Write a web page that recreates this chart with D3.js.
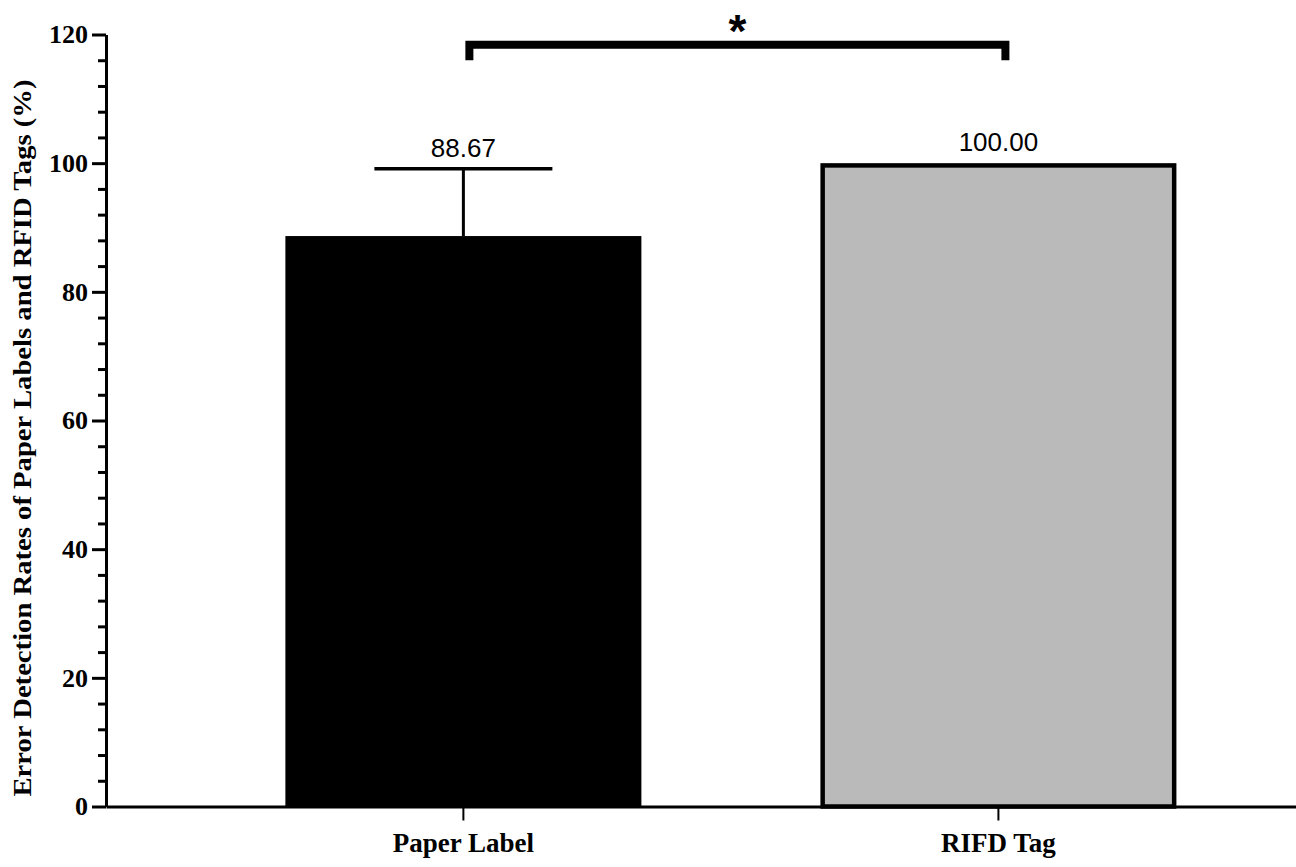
<!DOCTYPE html>
<html lang="en">
<head>
  <meta charset="utf-8">
  <title>Error detection rates</title>
  <script src="https://cdn.jsdelivr.net/npm/d3@7"></script>
  <style>
  body { margin: 0; background: #fff; }
  svg { display: block; }
  </style>
</head>
<body>
  <script>
  // data
  var categories = ["Paper Label", "RIFD Tag"];
  var means = [88.67, 100.00];
  var sds = [10.45, 0];
  var valueLabels = ["88.67", "100.00"];
  var yTicks = [0, 20, 40, 60, 80, 100, 120];
  var yMinorTicks = d3.range(0, 121, 4).filter(function(d) { return d % 20 !== 0; });
  var yTitle = "Error Detection Rates of Paper Labels and RFID Tags (%)";
  var sigLevel = 118.4, sigDrop = 116.0, sigMark = "*";

  var width = 1296, height = 867;
  var plotL = 106, plotR = 1296, plotT = 34.5, plotB = 806.5;
  var serif = "'Liberation Serif', 'Times New Roman', serif";
  var sans = "'Liberation Sans', Arial, sans-serif";

  var svg = d3.select("body").append("svg")
    .attr("width", width)
    .attr("height", height);

  svg.append("rect").attr("width", width).attr("height", height).attr("fill", "#fff");

  var x = d3.scaleBand()
    .domain(categories)
    .range([plotL, plotR])
    .paddingInner(0.3346)
    .paddingOuter(0.2794)
    .align(0.6);

  var y = d3.scaleLinear().domain([0, 120]).range([plotB, plotT]);

  var fill = d3.scaleOrdinal().domain(categories).range(["#000000", "#bababa"]);

  var rows = categories.map(function(c, i) {
    return {cat: c, mean: means[i], sd: sds[i], label: valueLabels[i]};
  });

  // bars (the grey one has a black outline drawn inside its edge)
  var sw = 4.5;
  function inset(d) { return d.cat === "RIFD Tag" ? sw / 2 : 0; }
  svg.selectAll("rect.bar").data(rows).enter().append("rect")
    .attr("class", "bar")
    .attr("x", function(d) { return x(d.cat) + inset(d); })
    .attr("width", function(d) { return x.bandwidth() - 2 * inset(d); })
    .attr("y", function(d) { return y(d.mean) + inset(d); })
    .attr("height", function(d) { return y(0) - y(d.mean) - inset(d); })
    .attr("fill", function(d) { return fill(d.cat); })
    .attr("stroke", function(d) { return inset(d) ? "#000" : "none"; })
    .attr("stroke-width", sw);

  // error bars (upper only)
  var eb = rows.filter(function(d) { return d.sd > 0; });
  svg.selectAll("line.err").data(eb).enter().append("line")
    .attr("class", "err")
    .attr("x1", function(d) { return x(d.cat) + x.bandwidth() / 2; })
    .attr("x2", function(d) { return x(d.cat) + x.bandwidth() / 2; })
    .attr("y1", function(d) { return y(d.mean); })
    .attr("y2", function(d) { return y(d.mean + d.sd); })
    .attr("stroke", "#000").attr("stroke-width", 3);
  svg.selectAll("line.cap").data(eb).enter().append("line")
    .attr("class", "cap")
    .attr("x1", function(d) { return x(d.cat) + x.bandwidth() / 4; })
    .attr("x2", function(d) { return x(d.cat) + x.bandwidth() * 3 / 4; })
    .attr("y1", function(d) { return y(d.mean + d.sd); })
    .attr("y2", function(d) { return y(d.mean + d.sd); })
    .attr("stroke", "#000").attr("stroke-width", 3.5);

  // value labels
  svg.selectAll("text.val").data(rows).enter().append("text")
    .attr("class", "val")
    .attr("x", function(d) { return x(d.cat) + x.bandwidth() / 2; })
    .attr("y", function(d) { return y(d.mean + d.sd) - 12; })
    .attr("text-anchor", "middle")
    .style("font-family", sans)
    .style("font-size", "26px")
    .attr("fill", "#000")
    .text(function(d) { return d.label; });

  // significance bracket
  var bx1 = x(categories[0]) + x.bandwidth() / 2 + 6;
  var bx2 = x(categories[1]) + x.bandwidth() / 2 + 7;
  svg.append("path")
    .attr("d", "M" + bx1 + "," + y(sigDrop) + "V" + y(sigLevel) + "H" + bx2 + "V" + y(sigDrop))
    .attr("fill", "none")
    .attr("stroke", "#000")
    .attr("stroke-width", 8)
    .attr("stroke-linejoin", "miter");
  svg.append("text")
    .attr("x", (bx1 + bx2) / 2)
    .attr("y", 47)
    .attr("text-anchor", "middle")
    .style("font-family", sans)
    .style("font-weight", "bold")
    .style("font-size", "46px")
    .text(sigMark);

  // x axis
  var gx = svg.append("g")
    .attr("transform", "translate(0," + plotB + ")")
    .call(d3.axisBottom(x).tickSize(14).tickSizeOuter(0).tickPadding(12));
  gx.select(".domain").attr("stroke-width", 3);
  gx.selectAll(".tick line").attr("stroke-width", 2);
  gx.selectAll(".tick text")
    .style("font-family", serif)
    .style("font-weight", "bold")
    .style("font-size", "27px")
    .attr("fill", "#000");

  // y axis, minor ticks first
  var gym = svg.append("g")
    .attr("transform", "translate(" + plotL + ",0)")
    .call(d3.axisLeft(y).tickValues(yMinorTicks).tickSize(8).tickFormat(""));
  gym.select(".domain").remove();
  gym.selectAll(".tick line").attr("stroke-width", 3);

  var gy = svg.append("g")
    .attr("transform", "translate(" + plotL + ",0)")
    .call(d3.axisLeft(y).tickValues(yTicks).tickSize(14).tickSizeOuter(0).tickPadding(4));
  gy.select(".domain").attr("stroke-width", 3);
  gy.selectAll(".tick line").attr("stroke-width", 3);
  gy.selectAll(".tick text")
    .style("font-family", serif)
    .style("font-weight", "bold")
    .style("font-size", "26px")
    .attr("fill", "#000");

  // y title
  svg.append("text")
    .attr("transform", "translate(31,438) rotate(-90)")
    .attr("text-anchor", "middle")
    .attr("textLength", 717)
    .attr("lengthAdjust", "spacingAndGlyphs")
    .style("font-family", serif)
    .style("font-weight", "bold")
    .style("font-size", "25px")
    .attr("fill", "#000")
    .text(yTitle);
  </script>
</body>
</html>
